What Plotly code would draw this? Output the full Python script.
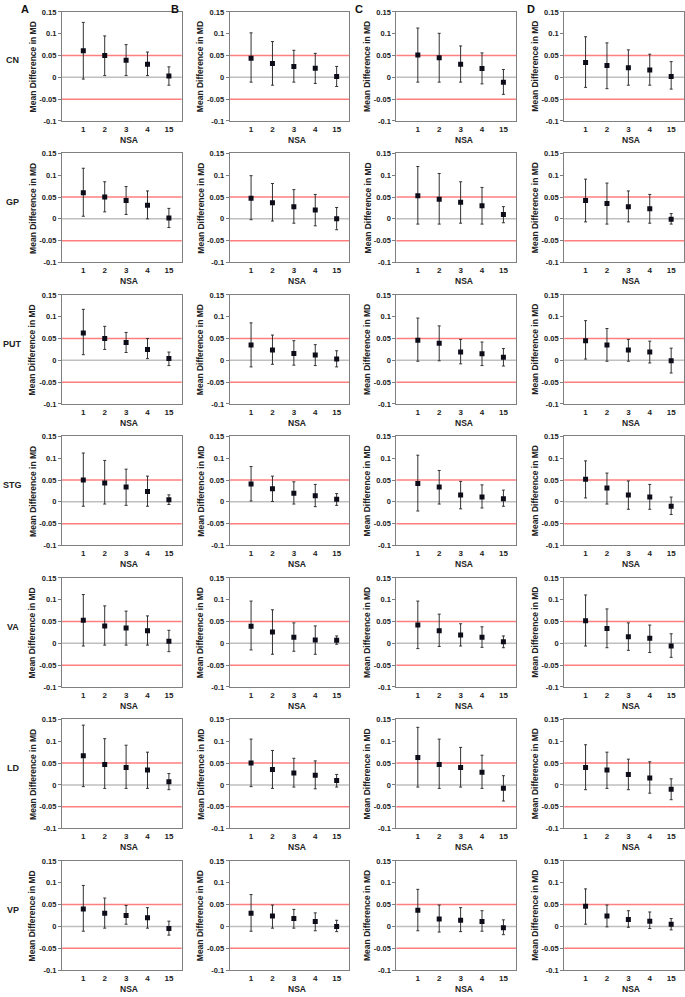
import plotly.graph_objects as go

# ---------------- data ----------------
nsa_labels = ["1", "2", "3", "4", "15"]
regions = ["CN", "GP", "PUT", "STG", "VA", "LD", "VP"]
panels = ["A", "B", "C", "D"]

# each list: one row per panel (A, B, C, D), five values per NSA level
mean_CN = [[0.061, 0.050, 0.039, 0.030, 0.003],
           [0.044, 0.032, 0.025, 0.021, 0.002],
           [0.051, 0.045, 0.030, 0.020, -0.011],
           [0.034, 0.027, 0.022, 0.017, 0.002]]
hi_CN = [[0.126, 0.095, 0.075, 0.058, 0.024],
         [0.102, 0.082, 0.062, 0.055, 0.025],
         [0.113, 0.101, 0.072, 0.056, 0.018],
         [0.093, 0.079, 0.063, 0.053, 0.036]]
lo_CN = [[-0.004, 0.004, 0.004, 0.004, -0.018],
         [-0.011, -0.018, -0.011, -0.014, -0.021],
         [-0.011, -0.011, -0.011, -0.015, -0.039],
         [-0.023, -0.026, -0.018, -0.018, -0.027]]

mean_GP = [[0.060, 0.050, 0.042, 0.031, 0.002],
           [0.047, 0.037, 0.028, 0.020, 0.000],
           [0.053, 0.045, 0.038, 0.030, 0.010],
           [0.042, 0.035, 0.028, 0.023, -0.001]]
hi_GP = [[0.116, 0.085, 0.074, 0.064, 0.024],
         [0.099, 0.081, 0.067, 0.056, 0.026],
         [0.120, 0.104, 0.085, 0.072, 0.028],
         [0.091, 0.082, 0.064, 0.056, 0.012]]
lo_GP = [[0.006, 0.016, 0.010, 0.000, -0.020],
         [-0.002, -0.005, -0.010, -0.016, -0.025],
         [-0.012, -0.012, -0.010, -0.012, -0.009],
         [-0.007, -0.012, -0.007, -0.010, -0.012]]

mean_PUT = [[0.063, 0.050, 0.041, 0.025, 0.004],
            [0.035, 0.024, 0.016, 0.012, 0.003],
            [0.046, 0.039, 0.019, 0.015, 0.007],
            [0.045, 0.035, 0.024, 0.019, -0.001]]
hi_PUT = [[0.117, 0.078, 0.064, 0.050, 0.019],
          [0.086, 0.058, 0.045, 0.036, 0.022],
          [0.097, 0.079, 0.048, 0.042, 0.027],
          [0.091, 0.073, 0.048, 0.044, 0.028]]
lo_PUT = [[0.013, 0.025, 0.018, 0.004, -0.012],
          [-0.015, -0.009, -0.011, -0.012, -0.015],
          [-0.002, -0.001, -0.008, -0.012, -0.013],
          [0.003, -0.002, -0.002, -0.006, -0.029]]

mean_STG = [[0.050, 0.043, 0.034, 0.024, 0.005],
            [0.041, 0.030, 0.020, 0.014, 0.006],
            [0.042, 0.034, 0.016, 0.011, 0.007],
            [0.052, 0.032, 0.016, 0.011, -0.010]]
hi_STG = [[0.112, 0.095, 0.075, 0.059, 0.016],
          [0.081, 0.059, 0.046, 0.040, 0.019],
          [0.107, 0.072, 0.047, 0.039, 0.027],
          [0.094, 0.066, 0.048, 0.040, 0.011]]
lo_STG = [[-0.010, -0.005, -0.008, -0.010, -0.006],
          [0.002, 0.001, -0.005, -0.011, -0.008],
          [-0.021, -0.005, -0.016, -0.014, -0.010],
          [0.009, -0.005, -0.017, -0.017, -0.029]]

mean_VA = [[0.053, 0.040, 0.035, 0.029, 0.005],
           [0.039, 0.026, 0.014, 0.008, 0.007],
           [0.042, 0.029, 0.019, 0.014, 0.004],
           [0.052, 0.034, 0.015, 0.012, -0.006]]
hi_VA = [[0.112, 0.086, 0.074, 0.063, 0.030],
         [0.097, 0.077, 0.047, 0.040, 0.017],
         [0.097, 0.067, 0.045, 0.038, 0.017],
         [0.111, 0.079, 0.047, 0.042, 0.022]]
lo_VA = [[-0.006, -0.004, -0.004, -0.004, -0.019],
         [-0.015, -0.025, -0.018, -0.025, -0.002],
         [-0.012, -0.007, -0.006, -0.009, -0.010],
         [-0.006, -0.010, -0.016, -0.021, -0.032]]

mean_LD = [[0.067, 0.047, 0.040, 0.034, 0.007],
           [0.050, 0.035, 0.027, 0.022, 0.010],
           [0.063, 0.047, 0.040, 0.029, -0.008],
           [0.040, 0.034, 0.024, 0.016, -0.010]]
hi_LD = [[0.137, 0.106, 0.091, 0.075, 0.026],
         [0.105, 0.079, 0.061, 0.055, 0.024],
         [0.132, 0.105, 0.086, 0.068, 0.021],
         [0.092, 0.075, 0.059, 0.053, 0.014]]
lo_LD = [[-0.004, -0.008, -0.008, -0.008, -0.011],
         [-0.004, -0.008, -0.005, -0.009, -0.005],
         [-0.005, -0.008, -0.005, -0.008, -0.037],
         [-0.011, -0.008, -0.011, -0.019, -0.034]]

mean_VP = [[0.040, 0.030, 0.025, 0.020, -0.005],
           [0.030, 0.024, 0.018, 0.011, 0.000],
           [0.037, 0.017, 0.014, 0.011, -0.003],
           [0.046, 0.024, 0.016, 0.012, 0.005]]
hi_VP = [[0.094, 0.065, 0.048, 0.043, 0.012],
         [0.073, 0.049, 0.039, 0.031, 0.014],
         [0.085, 0.049, 0.043, 0.036, 0.015],
         [0.086, 0.049, 0.036, 0.033, 0.018]]
lo_VP = [[-0.011, -0.004, 0.005, -0.004, -0.020],
         [-0.011, -0.004, -0.004, -0.010, -0.012],
         [-0.010, -0.013, -0.012, -0.011, -0.019],
         [0.005, -0.001, -0.002, -0.005, -0.008]]

means = [mean_CN, mean_GP, mean_PUT, mean_STG, mean_VA, mean_LD, mean_VP]
his = [hi_CN, hi_GP, hi_PUT, hi_STG, hi_VA, hi_LD, hi_VP]
los = [lo_CN, lo_GP, lo_PUT, lo_STG, lo_VA, lo_LD, lo_VP]

y_ticks = [-0.1, -0.05, 0, 0.05, 0.1, 0.15]
y_ticktext = ["-0.1", "-0.05", "0", "0.05", "0.1", "0.15"]
limit = 0.05

# ---------------- layout geometry (pixels) ----------------
W, H = 685, 997
col_left = [62, 230, 397, 565]
plot_w = 120
row_top0 = 8
row_step = 142.8
plot_h = 110

FONT = "Liberation Sans, Arial, sans-serif"
frame_col = "#7f7f7f"
red = "#ff7f7f"
zero_col = "#bfbfbf"

fig = go.Figure()
layout = {}
shapes = []
annotations = []
n = 0
xs = [1, 2, 3, 4, 5]
for r, reg in enumerate(regions):
    top = row_top0 + r * row_step
    for c in range(4):
        n += 1
        left = col_left[c]
        xd = [left / W, (left + plot_w) / W]
        yd = [1 - (top + plot_h) / H, 1 - top / H]
        sfx = "" if n == 1 else str(n)
        m = means[r][c]
        hi = his[r][c]
        lo = los[r][c]
        # reference lines
        for yv, col in [(0, zero_col), (limit, red), (-limit, red)]:
            shapes.append(dict(type="line", xref=f"x{sfx} domain", yref=f"y{sfx}",
                               x0=0, x1=1, y0=yv, y1=yv,
                               line=dict(color=col, width=1.5), layer="below"))
        fig.add_trace(go.Scatter(
            x=xs, y=m, mode="markers", xaxis=f"x{sfx}", yaxis=f"y{sfx}",
            marker=dict(symbol="square", size=5, color="#0d0d1a"),
            error_y=dict(type="data", symmetric=False,
                         array=[h - v for h, v in zip(hi, m)],
                         arrayminus=[v - l for v, l in zip(m, lo)],
                         color="#333333", thickness=1, width=1.5),
            showlegend=False, hoverinfo="skip"))
        layout[f"xaxis{sfx}"] = dict(
            domain=xd, anchor=f"y{sfx}", range=[0, 5.6],
            tickmode="array", tickvals=xs, ticktext=nsa_labels,
            showgrid=False, zeroline=False, showline=True, mirror=True,
            linecolor=frame_col, linewidth=1, ticks="",
            tickfont=dict(family=FONT, size=8, color="#222", weight="bold"))
        layout[f"yaxis{sfx}"] = dict(
            domain=yd, anchor=f"x{sfx}", range=[-0.1, 0.15],
            tickmode="array", tickvals=y_ticks, ticktext=y_ticktext,
            showgrid=False, zeroline=False, showline=True, mirror=True,
            linecolor=frame_col, linewidth=1, ticks="outside", ticklen=3,
            tickcolor=frame_col,
            tickfont=dict(family=FONT, size=7.5, color="#222", weight="bold"))
        # y title
        annotations.append(dict(
            text="Mean Difference in MD", xref="paper", yref="paper",
            x=(left - 29) / W, y=1 - (top + plot_h / 2) / H, textangle=-90,
            showarrow=False, xanchor="center", yanchor="middle",
            font=dict(family=FONT, size=8.5, color="#222", weight="bold")))
        # x title
        annotations.append(dict(
            text="NSA", xref="paper", yref="paper",
            x=(left + 0.56 * plot_w) / W, y=1 - (top + plot_h + 19) / H,
            showarrow=False, xanchor="center", yanchor="middle",
            font=dict(family=FONT, size=8.5, color="#222", weight="bold")))
    # row label
    annotations.append(dict(
        text=reg, xref="paper", yref="paper", x=13 / W, y=1 - (top + 49) / H,
        showarrow=False, xanchor="center", yanchor="middle",
        font=dict(family=FONT, size=9, color="#222", weight="bold")))

for lab, px in zip(panels, [25, 175, 360, 532]):
    annotations.append(dict(
        text=lab, xref="paper", yref="paper", x=px / W, y=1 - 5 / H,
        showarrow=False, xanchor="center", yanchor="middle",
        font=dict(family=FONT, size=11, color="#111", weight="bold")))

fig.update_layout(**layout)
fig.update_layout(
    width=W, height=H, margin=dict(l=0, r=0, t=0, b=0),
    paper_bgcolor="white", plot_bgcolor="white",
    shapes=shapes, annotations=annotations, showlegend=False)

fig.write_html(
    "out.html",
    config={"displayModeBar": False, "staticPlot": True},
    post_script="document.body.style.margin='0';document.body.style.padding='0';"
                "document.body.style.overflow='hidden';")
